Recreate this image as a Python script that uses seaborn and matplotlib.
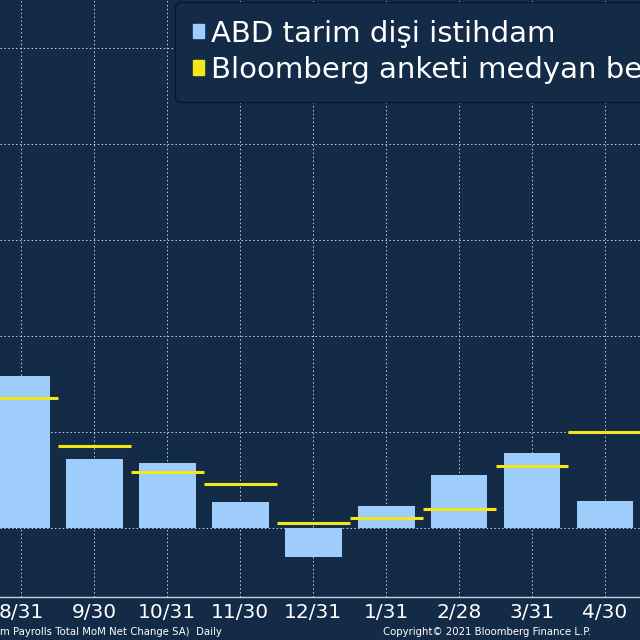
"""
ABD tarim disi istihdam vs Bloomberg anketi medyan beklentisi.
"""
import numpy as np
import pandas as pd
import seaborn as sns
import matplotlib
matplotlib.use('Agg')
import matplotlib.pyplot as plt
from matplotlib.patches import Patch

########  data  ########

MONTHS = ['8/31', '9/30', '10/31', '11/30', '12/31', '1/31', '2/28', '3/31', '4/30']
ACTUAL = [1580, 720, 680, 270, -300, 230, 550, 780, 280]     # thousands
MEDIAN = [1350, 850, 580, 460, 50, 105, 200, 650, 1000]

BG = '#142b48'
BAR = '#9fcdfb'
YEL = '#f3e619'

########  draw  ########

sns.set_style('dark')
plt.rcParams['font.family'] = ['DejaVu Sans']

df = pd.DataFrame({'month': MONTHS, 'actual': ACTUAL})

fig = plt.figure(figsize=(6.4, 6.4), dpi=100, facecolor=BG)
ax = fig.add_axes([0, 43/640, 1, 597/640], facecolor=BG)

sns.barplot(data=df, x='month', y='actual', color=BAR, width=0.78,
            saturation=1, linewidth=0, edgecolor=BAR, ax=ax, zorder=3)

pos = np.arange(len(MONTHS))
ax.hlines(MEDIAN, pos - 0.5, pos + 0.5, color=YEL, linewidth=2.2, zorder=4)

ax.set_xlim(-0.29, 8.48)
ax.set_ylim(-720, 5500)
ax.set_yticks(range(0, 5001, 1000))
ax.set_yticklabels([])
ax.tick_params(axis='y', length=0)
ax.tick_params(axis='x', colors='white', labelsize=14.5, length=3, pad=1)
ax.grid(True, color='#c8d3e0', linestyle=(0, (1.5, 2.5)), linewidth=0.7, zorder=0)
ax.set_xlabel('')
ax.set_ylabel('')
for s in ['top', 'left', 'right']:
    ax.spines[s].set_visible(False)
ax.spines['bottom'].set_color('#c8d3e0')
ax.spines['bottom'].set_linewidth(1)

handles = [Patch(color=BAR, label='ABD tarim dişi istihdam'),
           Patch(color=YEL, label='Bloomberg anketi medyan beklentisi')]
leg = fig.legend(handles=handles, loc='upper left', bbox_to_anchor=(175/640, 1 - 2/640),
                 borderaxespad=0, fontsize=21, handlelength=0.4, handleheight=0.4,
                 handletextpad=0.25, labelspacing=0.3, frameon=True,
                 facecolor=BG, edgecolor='#0a1626', framealpha=1, labelcolor='white',
                 borderpad=0.6)

fig.text(0, 3/640, 'm Payrolls Total MoM Net Change SA)  Daily',
         color='white', fontsize=7.3, va='bottom')
fig.text(383/640, 3/640, 'Copyright© 2021 Bloomberg Finance L.P.',
         color='white', fontsize=7.3, va='bottom')

fig.savefig('out.png', facecolor=BG)
